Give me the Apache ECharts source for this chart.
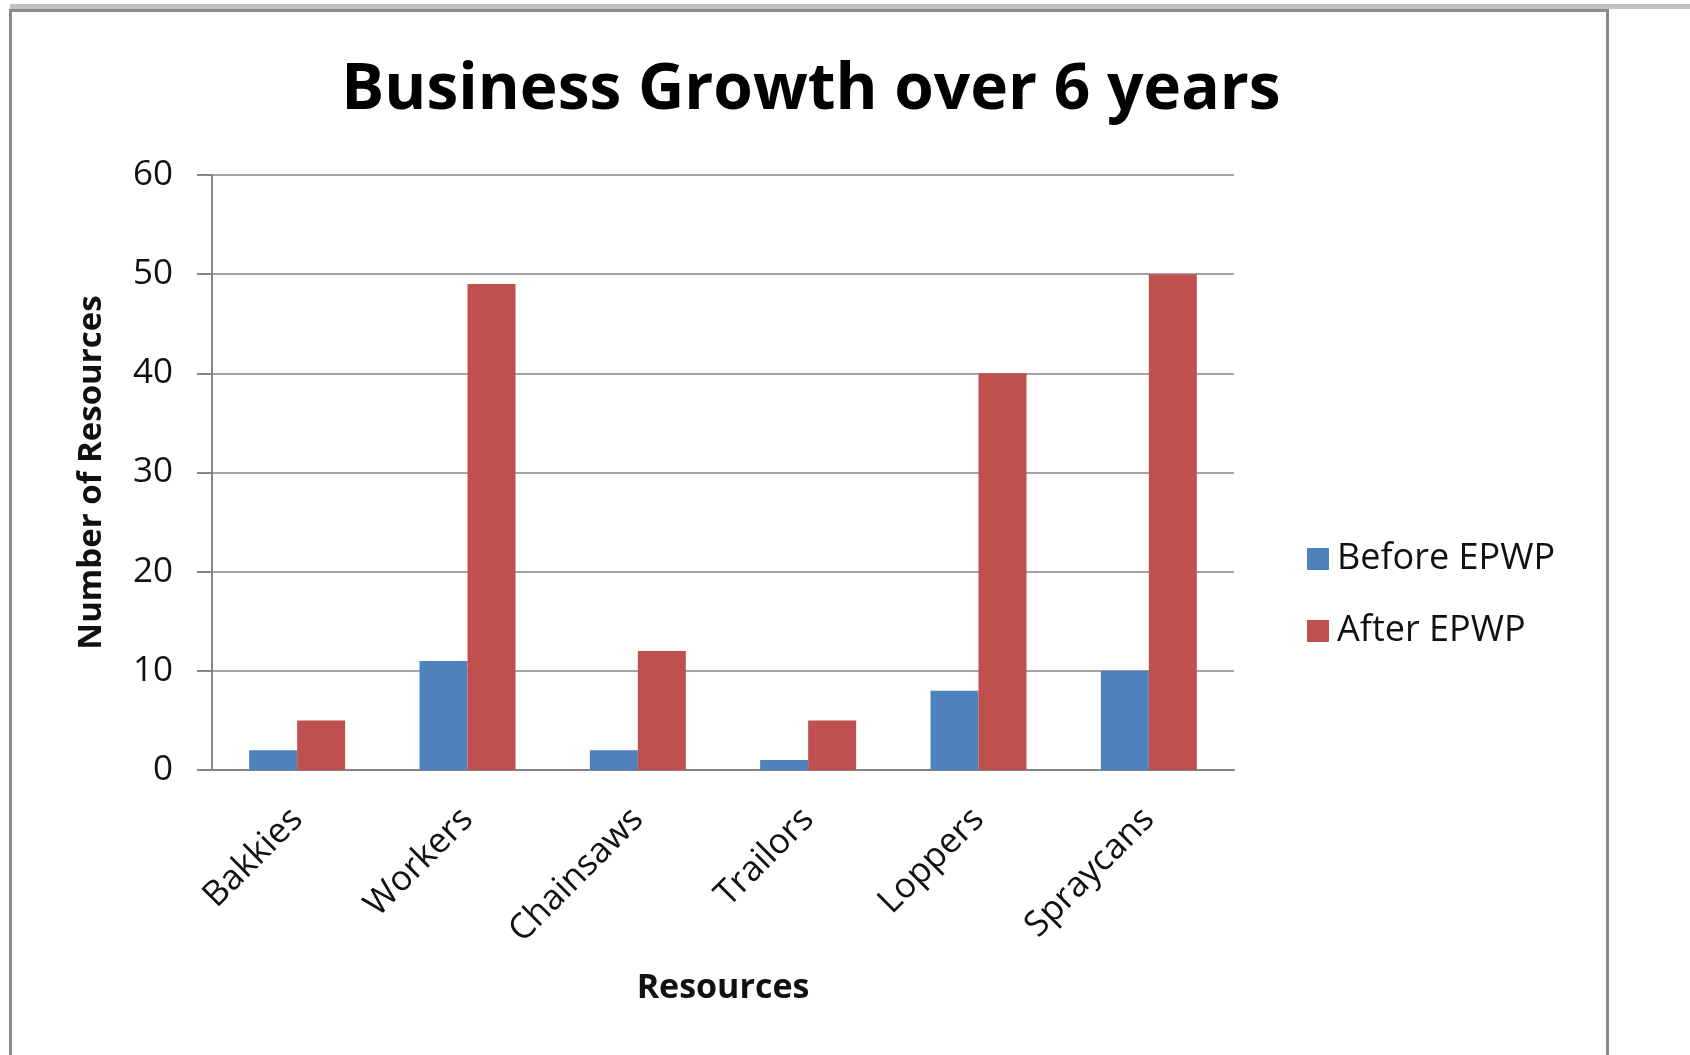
<!DOCTYPE html>
<html>
<head>
<meta charset="utf-8">
<script src="https://cdn.jsdelivr.net/npm/echarts@6/dist/echarts.min.js"></script>
<style>
html,body{margin:0;padding:0;background:#fff;}
#chart{width:1690px;height:1055px;}
</style>
</head>
<body>
<div id="chart"></div>
<script>
const categories = ["Bakkies", "Workers", "Chainsaws", "Trailors", "Loppers", "Spraycans"];
const beforeEPWP = [2, 11, 2, 1, 8, 10];
const afterEPWP = [5, 49, 12, 5, 40, 50];
const seriesNames = ["Before EPWP", "After EPWP"];
const titleText = "Business Growth over 6 years";
const yAxisName = "Number of Resources";
const xAxisName = "Resources";

const FONT = "'Open Sans', sans-serif";
const chart = echarts.init(document.getElementById('chart'), null, {renderer: 'canvas'});
chart.setOption({
  backgroundColor: '#ffffff',
  animation: false,
  graphic: [
    {type: 'rect', shape: {x: 10, y: 4, width: 1680, height: 5}, style: {fill: '#c0c0c0'}, z: 0},
    {type: 'rect', shape: {x: 10.5, y: 10.5, width: 1597, height: 1060}, style: {fill: 'none', stroke: '#8a8a8a', lineWidth: 3}, z: 0}
  ],
  title: {
    text: titleText,
    left: 806,
    top: 54,
    textAlign: 'center',
    textStyle: {fontFamily: FONT, fontWeight: 'bold', fontSize: 64, color: '#000'}
  },
  legend: {
    orient: 'vertical',
    left: 1302,
    top: 536,
    itemWidth: 22,
    itemHeight: 22,
    itemGap: 36,
    icon: 'rect',
    textStyle: {fontFamily: FONT, fontSize: 36, color: '#111', padding: [0, 0, 0, 3]},
    data: seriesNames
  },
  grid: {left: 212, right: 456, top: 175, bottom: 285, containLabel: false},
  xAxis: {
    type: 'category',
    data: categories,
    name: xAxisName,
    nameLocation: 'middle',
    nameGap: 201,
    nameTextStyle: {fontFamily: FONT, fontWeight: 'bold', fontSize: 34, color: '#111'},
    axisLine: {lineStyle: {color: '#868686', width: 2}},
    axisTick: {show: false},
    axisLabel: {rotate: 45, margin: 44, fontFamily: FONT, fontSize: 35, color: '#111', interval: 0}
  },
  yAxis: {
    type: 'value',
    min: 0,
    max: 60,
    interval: 10,
    name: yAxisName,
    nameLocation: 'middle',
    nameRotate: 90,
    nameGap: 104,
    nameTextStyle: {fontFamily: FONT, fontWeight: 'bold', fontSize: 33, color: '#111'},
    axisLine: {show: true, lineStyle: {color: '#868686', width: 2}},
    axisTick: {show: true, length: 15, lineStyle: {color: '#868686', width: 2}},
    axisLabel: {margin: 39, fontFamily: FONT, fontSize: 35, color: '#111'},
    splitLine: {lineStyle: {color: '#868686', width: 1.5}}
  },
  series: [
    {name: seriesNames[0], type: 'bar', data: beforeEPWP, barWidth: 48, barGap: '0%', itemStyle: {color: '#4F81BD'}},
    {name: seriesNames[1], type: 'bar', data: afterEPWP, barWidth: 48, barGap: '0%', itemStyle: {color: '#C0504D'}}
  ]
});
</script>
</body>
</html>
